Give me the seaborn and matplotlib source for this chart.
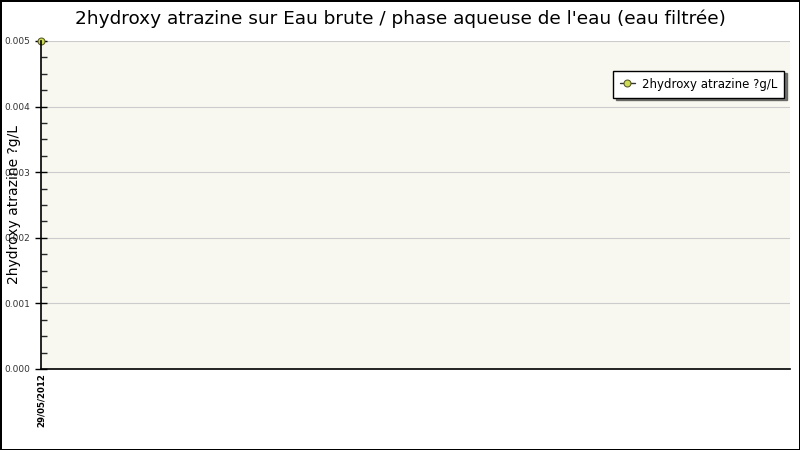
import matplotlib
matplotlib.use("Agg")
import matplotlib.pyplot as plt
import seaborn as sns
import pandas as pd
from matplotlib.ticker import MultipleLocator, FormatStrFormatter

# Données
dates = ["29/05/2012"]
valeurs = [0.005]
serie = "2hydroxy atrazine ?g/L"
titre = "2hydroxy atrazine sur Eau brute / phase aqueuse de l'eau (eau filtrée)"

df = pd.DataFrame({"pos": range(len(dates)), "valeur": valeurs, "date": dates})

sns.set_style("white")
plt.rcParams["font.family"] = ["DejaVu Sans"]
plt.rcParams["text.color"] = "black"
plt.rcParams["axes.labelcolor"] = "black"

fig = plt.figure(figsize=(8, 4.5), dpi=100)
fig.patch.set_facecolor("white")
fig.patch.set_edgecolor("black")
fig.patch.set_linewidth(2)
ax = fig.add_axes([41 / 800, 81 / 450, 749 / 800, 328 / 450])
ax.set_facecolor("#f8f8f0")

sns.lineplot(data=df, x="pos", y="valeur", ax=ax, color="#333333", lw=1,
             marker="o", markersize=5, markerfacecolor="#ccdd55",
             markeredgecolor="#555522", label=serie, clip_on=False)

ax.set_xlim(0, 1)
ax.set_ylim(0, 0.005)
ax.set_xticks(df["pos"])
ax.set_xticklabels(dates, rotation=90, fontsize=6.2, fontweight="bold")
ax.yaxis.set_major_locator(MultipleLocator(0.001))
ax.yaxis.set_minor_locator(MultipleLocator(0.00025))
ax.yaxis.set_major_formatter(FormatStrFormatter("%.3f"))
ax.tick_params(axis="y", which="major", direction="inout", length=8, width=1,
               labelsize=6.5, colors="black", labelcolor="#333333")
ax.tick_params(axis="y", which="minor", direction="in", length=4, width=1)
ax.tick_params(axis="y", left=True, which="both")
ax.tick_params(axis="x", length=0, pad=3, labelcolor="black")
ax.grid(axis="y", color="#cccccc", lw=0.8)
for s in ["top", "right"]:
    ax.spines[s].set_visible(False)
for s in ["left", "bottom"]:
    ax.spines[s].set_color("black")
    ax.spines[s].set_linewidth(1.2)

ax.set_xlabel("")
ax.set_ylabel(serie, fontsize=10)
ax.yaxis.set_label_coords(-0.027, 0.5)
fig.text(0.5, 0.958, titre, ha="center", va="center", fontsize=13.3)

leg = ax.legend(loc="upper right", bbox_to_anchor=(1.0, 0.928), fontsize=8.5,
                frameon=True, fancybox=False, shadow={"color": "#555555", "alpha": 0.8},
                borderpad=0.6, handlelength=1.2, handletextpad=0.6)
leg.get_frame().set_edgecolor("black")
leg.get_frame().set_linewidth(1)
leg.get_frame().set_facecolor("white")

fig.savefig("out.png", dpi=100)
